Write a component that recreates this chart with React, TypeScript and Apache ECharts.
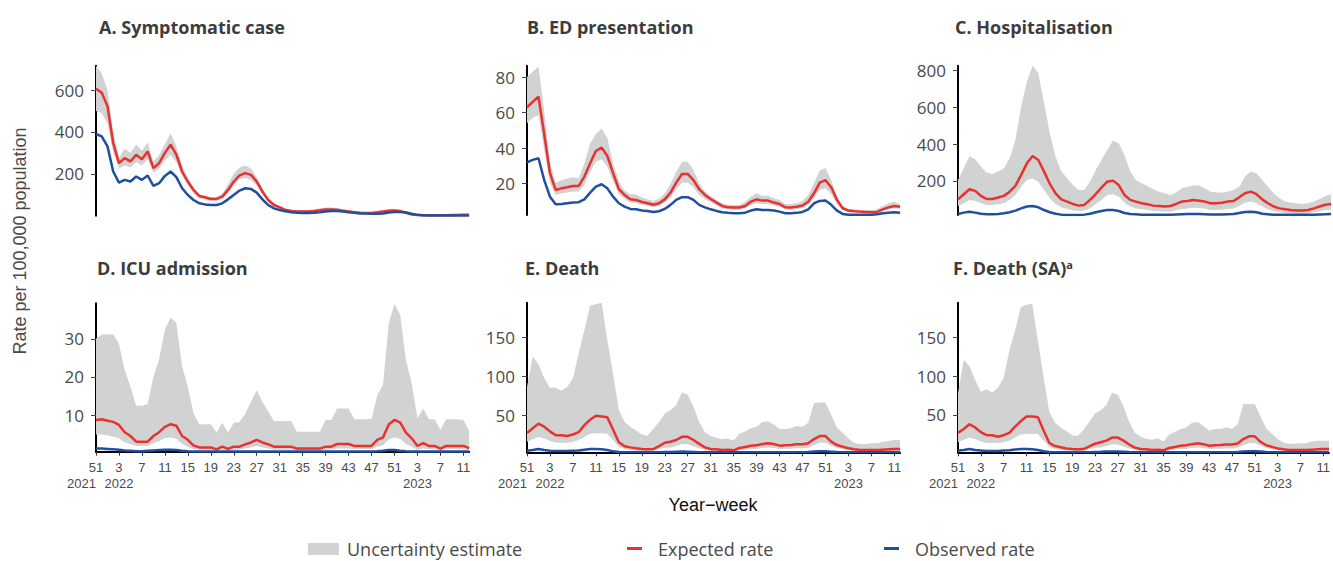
import React, { useEffect, useRef } from 'react';
import * as echarts from 'echarts';

// Year-week categories: 2021-W51 .. 2023-W12
const weeks: string[] = [
  '51', '52',
  '1', '2', '3', '4', '5', '6', '7', '8', '9', '10', '11', '12', '13', '14', '15', '16', '17', '18', '19', '20',
  '21', '22', '23', '24', '25', '26', '27', '28', '29', '30', '31', '32', '33', '34', '35', '36', '37', '38', '39', '40',
  '41', '42', '43', '44', '45', '46', '47', '48', '49', '50', '51', '52',
  '1', '2', '3', '4', '5', '6', '7', '8', '9', '10', '11', '12',
];
// year label shown under the week tick with this index
const yearAt: Record<number, string> = { 0: '2021', 4: '2022', 56: '2023' };

// A. Symptomatic case
const aUp = [715,680,600,400,275,320,300,340,310,350, 260,290,340,395,330,240,180,130,100,92, 88,90,105,150,200,230,240,225,185,130, 85,60,48,35,30,27,27,27,29,34, 39,39,36,31,26,21,18,17,17,21, 26,31,32,28,18,8,4,3,3,3, 3,3,4,4,5,5];
const aLow = [500,490,440,300,225,240,230,255,240,270, 205,225,265,290,255,190,145,105,82,76, 72,73,80,108,145,175,180,170,145,100, 65,45,35,26,20,17,17,17,18,22, 25,25,23,20,17,13,11,10,10,13, 16,20,21,18,11,5,2,1.5,1.5,1.5, 1.5,1.5,2,2,3,3];
const aExp = [606,587,523,347,251,275,259,291,270,307, 227,251,300,339,291,211,163,123,94,88, 80,80,91,123,163,192,203,195,163,115, 75,51,40,27,22,20,20,20,22,26, 30,30,28,24,20,16,14,13,13,16, 20,24,25,22,14,6,3,2,2,2, 2,2,3,3,4,4];
const aObs = [390,379,331,211,158,171,163,187,171,192, 142,155,190,211,184,131,99,75,59,54, 51,51,59,78,99,120,131,128,110,78, 51,35,27,21,16,14,13,13,14,16, 20,22,22,20,17,14,11,10,9,9, 11,15,18,18,15,9,4,2,1,1, 1,1,1,1,1,1];

// B. ED presentation
const bUp = [80,83,86,61,31.5,20.6,22,23,23.6,23, 31.5,42.7,48,51,45.6,31.5,21.2,16,14.2,14, 12.2,11.2,10.3,11.4,14.6,19.9,26.8,32.4,32.4,27.7, 20.2,15.6,13.1,10.9,9,8.1,8.1,8.2,9.9,12.7, 14.6,13.3,13.3,11.8,10.9,8.6,8.6,9,10.3,13.7, 20.2,27.4,28.7,22,12.7,7.5,5.8,5.6,5.2,5.2, 5.2,5.6,7.5,9,9.9,8.6];
const bLow = [54,57,58.7,39,20.2,13.7,14.6,15,15.6,15.6, 19.3,26.8,32.4,33.7,29.6,21.2,14.2,11.4,9.4,9, 8.1,7.5,6.7,7.5,9.4,12.4,16.9,20.6,20.6,18, 13.7,11.2,9.6,7.9,6.2,5.6,5.4,5.4,6.2,8.1, 9,8.6,8.6,7.7,7.1,5.6,5.4,5.6,6.4,8.2, 11.8,16.5,17.4,14.2,8.6,5.2,4.1,3.9,3.7,3.7, 3.7,3.9,4.9,5.6,6.2,5.8];
const bExp = [63,66,69,48,26,16.5,17.4,18,18.7,18.7, 24,31.5,38.4,40.3,35.6,26,17,13.7,11.2,10.9, 9.7,9,8.2,9,11.2,15,20.6,25.5,25.5,22, 16.9,13.7,11.4,9.4,7.5,6.7,6.6,6.6,7.5,9.9, 11.2,10.5,10.5,9.4,8.6,6.7,6.6,7,7.7,9.9, 14.6,20.6,22,18,10.9,6.2,4.9,4.5,4.3,4.1, 3.9,4.1,5.6,6.7,7.5,7.1];
const bObs = [32,33.4,34.3,22,12.7,8.4,8.6,9,9.4,9.6, 11.2,15,18.4,19.7,17.4,12.7,9,7.1,5.8,5.6, 4.9,4.7,4.1,4.5,5.8,8.1,10.9,12.4,12.4,10.9, 8.1,6.7,5.6,4.7,3.9,3.6,3.4,3.4,3.7,4.9, 5.6,5.2,5.2,4.9,4.3,3.4,3.4,3.6,4.1,5.6, 9,10.3,10.5,8.1,4.9,3,2.5,2.5,2.5,2.5, 2.5,2.8,3.4,3.7,3.9,3.7];

// C. Hospitalisation
const cUp = [205,269,335,318,278,245,238,251,269,323, 423,604,740,827,785,622,459,332,251,215, 178,151,151,196,260,314,368,419,405,341, 251,205,187,173,155,142,133,124,137,160, 169,176,175,160,142,138,138,142,151,169, 224,251,242,205,169,133,106,88,82,79, 75,79,88,102,119,129];
const cLow = [64,79,97,91,79,70,70,73,79,97, 124,169,205,214,196,151,106,75,57,48, 40,37,39,51,75,97,124,128,115,82, 61,51,46,42,37,35,33,33,42,48, 51,55,53,50,42,42,44,48,51,64, 82,88,79,61,46,35,30,26,24,22, 22,24,30,35,42,44];
const cExp = [100,128,155,146,119,102,102,110,119,142, 173,233,296,336,314,251,184,133,100,88, 75,66,70,97,129,164,196,202,178,124, 97,88,79,73,66,64,61,64,75,88, 91,97,93,88,79,79,82,88,91,111, 133,142,128,100,79,61,51,46,42,39, 39,42,51,61,71,75];
const cObs = [20,28,33,28,22,19,19,20,24,30, 39,51,61,64,57,42,30,22,17,15, 15,15,17,22,30,37,42,42,37,26, 20,19,17,17,17,17,17,17,18,19, 20,20,20,19,18,18,18,19,20,26, 31,33,30,22,19,16,16,16,16,16, 16,16,17,18,19,20];

// D. ICU admission
const dUp = [30,31.1,31.2,31.1,28.7,21.8,17.4,12.4,12.4,12.9, 20,24.6,32.4,35.5,34.2,22.7,17.4,10.4,7.5,7.6, 7.6,5.4,8,5.4,8,8.2,10.4,13.5,16.5,13.5, 10.9,8.4,8.4,8.4,8.4,5.6,5.6,5.6,5.6,5.6, 8.7,8.7,11.7,11.7,11.7,8.9,8.9,8.9,9,15.2, 17.9,34,39.2,36.2,24.4,18.3,9.1,11.7,8.9,8.9, 6.1,8.9,8.9,8.9,8.7,5.9];
const dLow = [4.9,4.9,4.7,4.3,3.9,2.8,2.4,1.9,1.9,1.9, 2.6,3.2,3.9,4.1,3.8,2.4,1.7,1,0.8,0.8, 0.8,0.6,0.9,0.6,0.9,0.9,1.2,1.5,1.9,1.5, 1.2,0.9,0.9,0.9,0.9,0.7,0.7,0.7,0.7,0.7, 0.9,0.9,1.2,1.2,1.2,1,1,1,1,1.7, 2.1,3.6,4.1,3.7,2.4,1.7,0.8,1.2,1,1, 0.7,1,1,1,1,0.7];
const dExp = [8.7,8.9,8.5,8.2,7.4,5.5,4.5,3,3,3, 4.5,5.5,6.9,7.6,7.2,4.5,3.5,2,1.5,1.5, 1.5,1,1.7,1.1,1.7,1.7,2.3,2.8,3.5,2.8, 2.3,1.7,1.7,1.7,1.7,1.2,1.2,1.2,1.2,1.2, 1.7,1.7,2.4,2.4,2.4,1.9,1.9,1.9,1.9,3.5, 4.1,7.5,8.7,8,5.4,3.9,1.9,2.6,1.9,1.9, 1.2,1.9,1.9,1.9,1.9,1.3];
const dObs = [1.2,1.2,1.1,1,0.9,0.7,0.6,0.5,0.5,0.6, 0.7,0.8,0.9,0.9,0.8,0.6,0.5,0.45,0.45,0.45, 0.45,0.45,0.45,0.45,0.45,0.45,0.45,0.45,0.45,0.45, 0.45,0.45,0.45,0.45,0.45,0.45,0.45,0.45,0.45,0.45, 0.45,0.45,0.45,0.45,0.45,0.45,0.45,0.45,0.45,0.5, 0.6,0.8,0.8,0.6,0.5,0.45,0.45,0.45,0.45,0.45, 0.45,0.45,0.45,0.45,0.45,0.45];

// E. Death
const eUp = [86,125,115,97,85,85,81,86,97,129, 159,190,192,194,146,103,56,41,35,30, 25,23.5,32,41,52,56,63,79,76,61, 41,28,23,21,19,20,17,26,29,33, 35,41,42,38,32,32,33,36,35,40, 65,66,66,50,34,27,20,14.5,13,13, 13.7,13.7,15.8,16.7,18,18];
const eLow = [15.8,18.8,22,20,16.7,14.5,14.5,14.5,15.8,18, 22,26,26.5,26.5,26,18,9.4,6.4,5.1,4.3, 3.8,3.4,4.3,6,8.1,8.5,10.3,12.8,12.4,9.8, 7.3,5.1,3.8,3.4,3,3.4,3,5.1,5.6,6.4, 6.4,7.7,8.5,7.7,6.4,6.8,6.8,7.3,7.3,8.1, 11.5,14.5,14.5,10.7,7.7,6.4,5.1,4.3,3.8,3.8, 3.8,3.8,3.8,3.8,3.8,3.8];
const eExp = [27,33,39,35,29,24,24,23,25,28, 37,44,49,48,47,31,15,10,8.5,7.3, 6.4,6,6.4,10,14.5,15.8,18,22,22,18, 13,8.5,6.4,6,5.1,5.6,4.7,7.7,9,10.7, 11.1,12.8,13.7,12.8,10.7,11.1,11.5,12.4,12.4,13.7, 19.2,23,23,15.8,11.5,9.4,7.3,6,5.1,5.1, 5.1,5.1,5.6,6,6.4,6.4];
const eObs = [4.3,5.1,6.4,5.1,4.3,3.8,3.8,3.8,4.3,4.6, 5.6,6.4,6.4,6,5.1,3.4,2.5,2.3,2.3,2.3, 2.3,2.3,2.3,2.3,2.5,2.7,3,3.1,3,2.7, 2.4,2.3,2.3,2.3,2.3,2.3,2.3,2.3,2.3,2.3, 2.3,2.3,2.3,2.3,2.3,2.3,2.3,2.3,2.3,2.6, 3.1,3.4,3.4,3,2.6,2.3,2.3,2.3,2.3,2.3, 2.3,2.3,2.3,2.3,2.3,2.3];

// F. Death (SA)
const fUp = [78,121,113,95,80,83,79,85,98,133, 159,189,192,193,146,99,54,40,34,29, 24,23,31,41,52,56,63,79,76,61, 41,27,22,19,18,20,16,25,28,32, 34,40,41,36,30,32,32,34,32,38, 64,64,64,48,33,26,19,14.5,13,13, 13.5,13.5,16,17,17,17];
const fLow = [15,18,21,19,16,14,14,14,15,17, 21,25,26,26,25.5,17,9,6.2,5,4.2, 3.7,3.3,4.1,5.8,7.8,8.2,10,12.4,12,9.5, 7,5,3.7,3.3,2.9,3.3,2.9,5,5.5,6.2, 6.2,7.5,8.2,7.5,6.2,6.6,6.6,7,7,7.8, 11.2,14,14,10.4,7.5,6.2,5,4.2,3.7,3.7, 3.7,3.7,3.7,3.7,3.7,3.7];
const fExp = [27,32,38,34,28,24,24,22,24,27, 35,42,48,48,47,30,14,10,8.5,7, 6.2,5.8,6.2,9.5,13,15,17,21,21,17, 12,8,6.2,5.8,5,5.4,4.5,7.5,8.8,10.5, 11,12.5,13.5,12.5,10.5,11,11.3,12,12,13.3, 19,22.5,22.5,15.5,11,9,7,5.8,5,5, 5,5,5.4,5.8,6.2,6.2];
const fObs = [4.2,5,6.2,5,4.2,3.7,3.7,3.7,4.2,4.5, 5.5,6.2,6.3,5.9,5,3.3,2.4,2.2,2.2,2.2, 2.2,2.2,2.2,2.2,2.4,2.6,2.9,3,2.9,2.6, 2.3,2.2,2.2,2.2,2.2,2.2,2.2,2.2,2.2,2.2, 2.2,2.2,2.2,2.2,2.2,2.2,2.2,2.2,2.2,2.5, 3,3.3,3.3,2.9,2.5,2.2,2.2,2.2,2.2,2.2, 2.2,2.2,2.2,2.2,2.2,2.2];

const yTicksA = [200, 400, 600];
const yTicksB = [20, 40, 60, 80];
const yTicksC = [200, 400, 600, 800];
const yTicksD = [10, 20, 30];
const yTicksEF = [50, 100, 150];

const titles = ['A. Symptomatic case', 'B. ED presentation', 'C. Hospitalisation', 'D. ICU admission', 'E. Death', 'F. Death (SA)'];
const legendLabels = ['Uncertainty estimate', 'Expected rate', 'Observed rate'];

const BAND = '#d1d2d2';
const RED = '#e8322f';
const BLUE = '#1f4f9f';
const TXT = '#4a4a4a';

const panels = [
  { low: aLow, up: aUp, exp: aExp, obs: aObs, ticks: yTicksA, min: 0, max: 716, left: 96, top: 65.7, height: 150, bottom: false, tx: 99, ty: 27 },
  { low: bLow, up: bUp, exp: bExp, obs: bObs, ticks: yTicksB, min: 2.4, max: 86.4, left: 527, top: 65.7, height: 149.3, bottom: false, tx: 527, ty: 27 },
  { low: cLow, up: cUp, exp: cExp, obs: cObs, ticks: yTicksC, min: 15, max: 827, left: 958, top: 65.7, height: 149.3, bottom: false, tx: 955, ty: 27 },
  { low: dLow, up: dUp, exp: dExp, obs: dObs, ticks: yTicksD, min: 0.38, max: 39.3, left: 96, top: 303.3, height: 148.4, bottom: true, tx: 97, ty: 268 },
  { low: eLow, up: eUp, exp: eExp, obs: eObs, ticks: yTicksEF, min: 2.2, max: 194, left: 527, top: 302.7, height: 149.6, bottom: true, tx: 525, ty: 268 },
  { low: fLow, up: fUp, exp: fExp, obs: fObs, ticks: yTicksEF, min: 2, max: 194.5, left: 958, top: 302.7, height: 149.6, bottom: true, tx: 953, ty: 268 },
];

const PLOT_W = 373.1;

function buildOption() {
  const grid: any[] = [];
  const xAxis: any[] = [];
  const yAxis: any[] = [];
  const series: any[] = [];
  const graphic: any[] = [];
  const xFont = "'Liberation Sans', Arial, sans-serif";

  // year row categories (first year label right-aligned so it doesn't collide)
  const yearCats = weeks.map((_, k) =>
    yearAt[k] ? (k === 0 ? { value: yearAt[k], textStyle: { align: 'right' } } : { value: yearAt[k] }) : { value: '' });

  let xIdx = 0;
  panels.forEach((p, i) => {
    grid.push({ left: p.left, top: p.top, width: PLOT_W, height: p.height, containLabel: false });
    const weekAxisIndex = xIdx;
    xAxis.push({
      type: 'category', gridIndex: i, data: weeks, boundaryGap: false,
      axisLine: { show: p.bottom, onZero: false, lineStyle: { color: '#000', width: 2 } },
      axisTick: { show: p.bottom, interval: 3, length: 4, lineStyle: { color: '#333', width: 1 } },
      axisLabel: { show: p.bottom, interval: 3, margin: 9, color: TXT, fontSize: 13, fontFamily: xFont },
      splitLine: { show: false },
    });
    xIdx++;
    if (p.bottom) {
      xAxis.push({
        type: 'category', gridIndex: i, data: yearCats, boundaryGap: false, position: 'bottom',
        axisLine: { show: false }, axisTick: { show: false }, splitLine: { show: false },
        axisLabel: { show: true, interval: 0, margin: 25, color: TXT, fontSize: 13, fontFamily: xFont },
      });
      xIdx++;
    }
    yAxis.push({
      type: 'value', gridIndex: i, min: p.min, max: p.max,
      axisLine: { show: true, onZero: false, lineStyle: { color: '#000', width: 2 } },
      axisTick: { show: true, length: 5, customValues: p.ticks, lineStyle: { color: '#444', width: 1 } },
      axisLabel: { show: true, customValues: p.ticks, margin: 12, fontSize: 17, color: TXT, fontFamily: "'Open Sans', sans-serif" },
      splitLine: { show: false },
    });
    const band = p.up.map((u, k) => u - p.low[k]);
    series.push({
      type: 'line', xAxisIndex: weekAxisIndex, yAxisIndex: i, data: p.low, stack: 'band' + i,
      symbol: 'none', silent: true, lineStyle: { width: 0, opacity: 0 }, z: 1,
    });
    series.push({
      type: 'line', xAxisIndex: weekAxisIndex, yAxisIndex: i, data: band, stack: 'band' + i,
      symbol: 'none', silent: true, lineStyle: { width: 0, opacity: 0 },
      areaStyle: { color: BAND, opacity: 1 }, z: 1,
    });
    series.push({
      type: 'line', name: legendLabels[1], xAxisIndex: weekAxisIndex, yAxisIndex: i, data: p.exp,
      symbol: 'none', lineStyle: { color: RED, width: 2.5 }, z: 3,
    });
    series.push({
      type: 'line', name: legendLabels[2], xAxisIndex: weekAxisIndex, yAxisIndex: i, data: p.obs,
      symbol: 'none', lineStyle: { color: BLUE, width: 2.5 }, z: 3,
    });

    const isF = i === 5;
    graphic.push({
      type: 'text', x: p.tx, y: p.ty,
      style: {
        text: isF ? `${titles[i]}{s|a}` : titles[i],
        fontSize: 18, fontWeight: 'bold', fontFamily: "'Open Sans', sans-serif", fill: '#3c3c3c',
        align: 'left', verticalAlign: 'middle', textAlign: 'left', textVerticalAlign: 'middle',
        rich: isF ? { s: { fontSize: 11, fontWeight: 'bold', fontFamily: "'Open Sans', sans-serif", fill: '#3c3c3c', verticalAlign: 'top', lineHeight: 18 } } : undefined,
      },
    });
  });

  // axis titles
  graphic.push({
    type: 'text', x: 20, y: 241, rotation: Math.PI / 2,
    style: {
      text: 'Rate per 100,000 population', fontSize: 18, fontFamily: "'Liberation Sans', Arial, sans-serif", fill: TXT,
      align: 'center', verticalAlign: 'middle', textAlign: 'center', textVerticalAlign: 'middle',
    },
  });
  graphic.push({
    type: 'text', x: 713, y: 505,
    style: {
      text: 'Year\u2212week', fontSize: 18, fontFamily: "'Liberation Sans', Arial, sans-serif", fill: '#111',
      align: 'center', verticalAlign: 'middle', textAlign: 'center', textVerticalAlign: 'middle',
    },
  });

  // legend
  const legFont = "'Open Sans', sans-serif";
  const legText = (t: string, x: number) => ({
    type: 'text', x, y: 549,
    style: { text: t, fontSize: 18, fontFamily: legFont, fill: TXT, align: 'left', verticalAlign: 'middle', textAlign: 'left', textVerticalAlign: 'middle' },
  });
  graphic.push({ type: 'rect', shape: { x: 308, y: 543, width: 31, height: 12 }, style: { fill: BAND } });
  graphic.push(legText(legendLabels[0], 347));
  graphic.push({ type: 'line', shape: { x1: 627, y1: 548.5, x2: 642, y2: 548.5 }, style: { stroke: RED, lineWidth: 3 } });
  graphic.push(legText(legendLabels[1], 658));
  graphic.push({ type: 'line', shape: { x1: 884, y1: 548.5, x2: 899, y2: 548.5 }, style: { stroke: BLUE, lineWidth: 3 } });
  graphic.push(legText(legendLabels[2], 915));

  return {
    animation: false,
    backgroundColor: '#fff',
    grid, xAxis, yAxis, series, graphic,
  };
}

export default function App() {
  const ref = useRef<HTMLDivElement>(null);
  useEffect(() => {
    if (!ref.current) return;
    const chart = echarts.init(ref.current, null, { renderer: 'svg' });
    chart.setOption(buildOption() as any);
    return () => chart.dispose();
  }, []);
  return <div ref={ref} style={{ position: 'fixed', left: 0, top: 0, width: 1333, height: 561 }} />;
}
